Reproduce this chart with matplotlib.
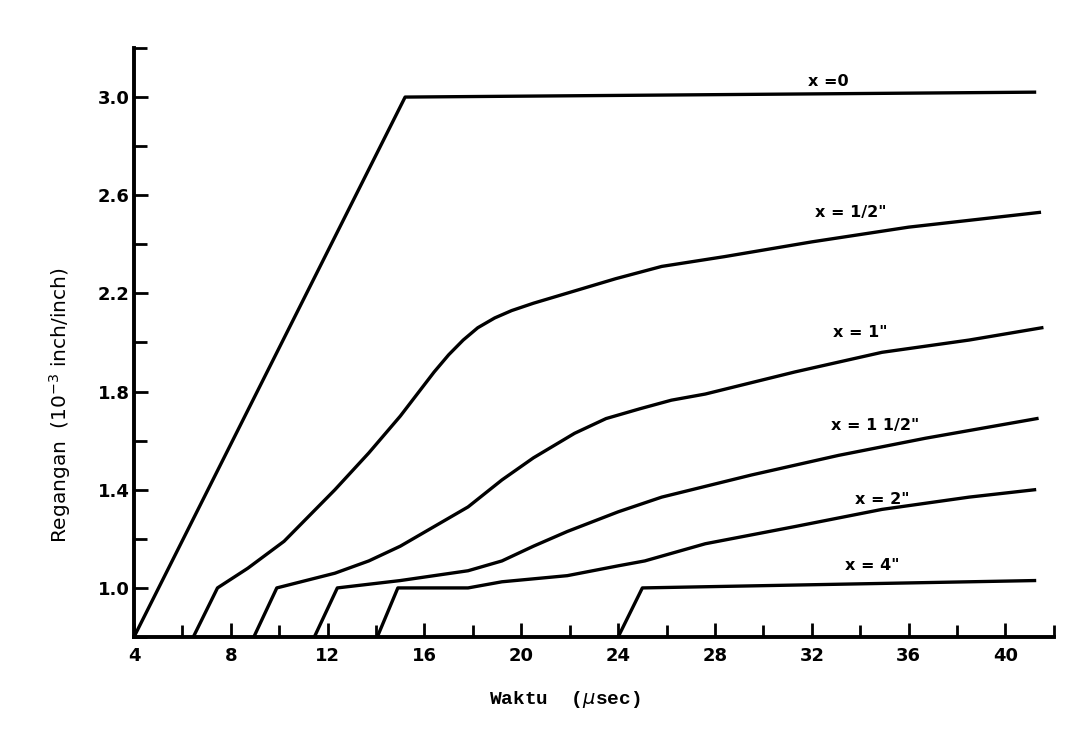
import numpy as np
import matplotlib
matplotlib.use("Agg")
import matplotlib.pyplot as plt
from matplotlib.ticker import MultipleLocator, FixedLocator

# strain curves, one per gauge position
t_x0 = [4.0, 15.2, 41.2]
e_x0 = [0.8, 3.0, 3.02]

t_x05 = [6.45, 7.45, 8.7, 10.2, 12.3, 13.7, 15.0, 16.4, 17.0, 17.6, 18.2, 18.9,
         19.6, 20.5, 22.2, 23.9, 25.8, 28.4, 32.0, 36.0, 41.4]
e_x05 = [0.8, 1.0, 1.08, 1.19, 1.40, 1.55, 1.70, 1.88, 1.95, 2.01, 2.06, 2.10,
         2.13, 2.16, 2.21, 2.26, 2.31, 2.35, 2.41, 2.47, 2.53]

t_x1 = [8.95, 9.9, 12.3, 13.7, 15.0, 16.4, 17.8, 19.2, 20.5, 22.2, 23.5, 24.9,
        26.2, 27.6, 31.3, 34.9, 38.5, 41.5]
e_x1 = [0.8, 1.0, 1.06, 1.11, 1.17, 1.25, 1.33, 1.44, 1.53, 1.63, 1.69, 1.73,
        1.765, 1.79, 1.88, 1.96, 2.01, 2.06]

t_x15 = [11.45, 12.4, 15.0, 17.8, 19.2, 20.5, 21.9, 24.0, 25.8, 29.5, 33.1, 36.7, 41.3]
e_x15 = [0.8, 1.0, 1.03, 1.07, 1.11, 1.17, 1.23, 1.31, 1.37, 1.46, 1.54, 1.61, 1.69]

t_x2 = [14.05, 14.9, 17.8, 19.2, 21.9, 24.0, 25.1, 27.6, 31.3, 34.9, 38.5, 41.2]
e_x2 = [0.8, 1.0, 1.0, 1.025, 1.05, 1.09, 1.11, 1.18, 1.25, 1.32, 1.37, 1.40]

t_x4 = [24.0, 25.0, 41.2]
e_x4 = [0.8, 1.0, 1.03]

curves = [(t_x0, e_x0), (t_x05, e_x05), (t_x1, e_x1),
          (t_x15, e_x15), (t_x2, e_x2), (t_x4, e_x4)]

labels = ['x =0', 'x = 1/2"', 'x = 1"', 'x = 1 1/2"', 'x = 2"', 'x = 4"']
label_t = [32.7, 33.6, 34.0, 34.6, 34.9, 34.5]
label_e = [3.065, 2.53, 2.04, 1.66, 1.36, 1.09]

xticks_major = [4, 8, 12, 16, 20, 24, 28, 32, 36, 40]
yticks_major = [1.0, 1.4, 1.8, 2.2, 2.6, 3.0]

fig = plt.figure(figsize=(10.91, 7.36), dpi=100)
ax = fig.add_axes([0.1228, 0.1345, 0.8432, 0.8003])

for t, e in curves:
    ax.plot(t, e, color='black', lw=2.4, solid_joinstyle='round')

for lab, tx, ey in zip(labels, label_t, label_e):
    ax.text(tx, ey, lab, fontsize=11.5, fontweight='bold', ha='center', va='center')

ax.set_xlim(4, 42)
ax.set_ylim(0.8, 3.2)
ax.spines['top'].set_visible(False)
ax.spines['right'].set_visible(False)
ax.spines['left'].set_linewidth(2.8)
ax.spines['bottom'].set_linewidth(2.8)

ax.xaxis.set_major_locator(FixedLocator(xticks_major))
ax.xaxis.set_minor_locator(MultipleLocator(2))
ax.yaxis.set_major_locator(FixedLocator(yticks_major))
ax.yaxis.set_minor_locator(MultipleLocator(0.2))
ax.set_xticklabels([str(v) for v in xticks_major])
ax.set_yticklabels(['%.1f' % v for v in yticks_major])
ax.tick_params(which='both', direction='in', width=2, colors='black', labelsize=13)
ax.tick_params(which='major', length=10)
ax.tick_params(which='minor', length=9)
ax.tick_params(axis='x', which='both', pad=7)
ax.tick_params(axis='y', which='both', pad=3)
for lab in ax.get_xticklabels() + ax.get_yticklabels():
    lab.set_fontweight('bold')

fig.text(0.518, 0.049, 'Waktu  ($\\mu$sec)', fontsize=14, ha='center', va='center',
         family='Liberation Mono', fontweight='bold')
fig.text(0.055, 0.449, 'Regangan  (10$^{-3}$ inch/inch)', fontsize=14.5,
         rotation=90, ha='center', va='center')

fig.savefig('out.png', dpi=100)
